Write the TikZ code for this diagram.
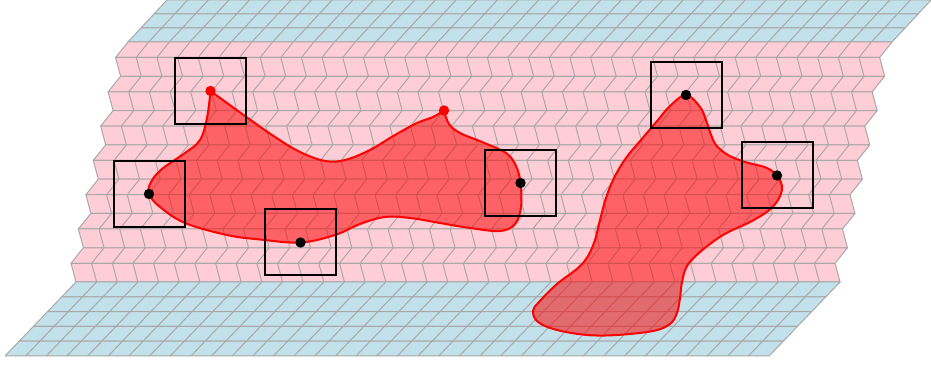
\documentclass[tikz,border=0pt]{standalone}
\usepackage{xcolor}
\usepackage{tikz}

\definecolor{sheetblue}{RGB}{194,225,234}
\definecolor{sheetpink}{RGB}{255,205,214}
\definecolor{gridgray}{RGB}{168,168,168}

\newcommand{\cellw}{20.65}
% one row of 37 slanted cells: top-left x, top y, bottom-left x, bottom y, fill
\newcommand{\cellrow}[5]{%
  \filldraw[fill=#5, draw=gridgray, line width=0.5pt, line join=round]
    (#1,#2) -- ({#1+37*\cellw},#2) -- ({#3+37*\cellw},#4) -- (#3,#4) -- cycle;
  \foreach \i in {1,...,36}{
    \draw[gridgray, line width=0.5pt] ({#1+\i*\cellw},#2) -- ({#3+\i*\cellw},#4);
  }
}

\begin{document}
\begin{tikzpicture}[x=0.5pt, y=-0.5pt,
  blob/.style={draw=red, line width=1pt, fill=red, fill opacity=0.52, draw opacity=1},
  probe/.style={draw=black, line width=1pt}]
\useasboundingbox (0,0) rectangle (931,367);

% upper blue sheet
\foreach \xa/\ya/\xb/\yb in {167/0/154/14, 154/14/141/28, 141/28/128/42}{
  \cellrow{\xa}{\ya}{\xb}{\yb}{sheetblue}
}
% pink herringbone layer
\foreach \xa/\ya/\xb/\yb in {128/42/115.6/57.5, 115.6/57.5/120.6/76.3,
    120.6/76.3/108.1/91.8, 108.1/91.8/113.1/110.6, 113.1/110.6/100.7/126.1,
    100.7/126.1/105.7/144.9, 105.7/144.9/93.3/160.4, 93.3/160.4/98.3/179.2,
    98.3/179.2/85.9/194.7, 85.9/194.7/90.9/213.5, 90.9/213.5/78.4/229,
    78.4/229/83.4/247.8, 83.4/247.8/71/263.3, 71/263.3/76/282}{
  \cellrow{\xa}{\ya}{\xb}{\yb}{sheetpink}
}
% lower blue sheet
\foreach \xa/\ya/\xb/\yb in {76/282/61.8/296.8, 61.8/296.8/47.6/311.6,
    47.6/311.6/33.4/326.4, 33.4/326.4/19.2/341.2, 19.2/341.2/5/356}{
  \cellrow{\xa}{\ya}{\xb}{\yb}{sheetblue}
}

\coordinate (tipA) at (210.5,91);
\coordinate (tipB) at (444,110.5);
\coordinate (s1) at (149,194);
\coordinate (s2) at (300.5,242.5);
\coordinate (s3) at (520.5,183);
\coordinate (s4) at (686,95);
\coordinate (s5) at (777,175.5);

% left region
\filldraw[blob] (tipA)
  -- plot[smooth, tension=0.6] coordinates {(210.5,91) (207,118) (200,140) (185,153)
     (162,169) (151,182) (149,194) (160,207) (185,223) (227,235) (260,239.5)
     (300.5,242.5) (335,235) (360,224) (385,217) (410,218) (440,223) (470,228)
     (500,231) (515,224) (521,207) (520.5,183) (516,166) (506,153) (482,142)
     (460,133) (449,124) (444,110.5)}
  -- plot[smooth, tension=0.6] coordinates {(444,110.5) (433,117) (417,123) (395,135)
     (370,150) (345,160) (325,161) (300,152) (275,137) (245,116) (210.5,91)}
  -- cycle;
% right region
\filldraw[blob] plot[smooth cycle, tension=0.6] coordinates {(686,95) (700,107)
  (706,120) (710,132) (716,145) (728,155) (745,162) (767,168) (778,177) (782,188)
  (778,200) (768,211) (750,222) (723,235) (700,252) (687,266) (682,282) (680,298)
  (677,313) (670,324) (653,331) (617,335) (587,335) (557,330) (538,322) (533,311)
  (539,302) (557,284) (578,268) (588,256) (595,240) (600,220) (606,198) (614,178)
  (626,158) (641,140) (658,120) (670,106)};

\foreach \p in {tipA,s1,s2,s3,s4,s5}{
  \draw[probe] (\p) ++(-35.5,-33) rectangle ++(71,66);
}
\foreach \p in {tipA,tipB}{
  \fill[red] (\p) circle (2.6pt);
}
\foreach \p in {s1,s2,s3,s4,s5}{
  \fill (\p) circle (2.6pt);
}
\end{tikzpicture}
\end{document}
